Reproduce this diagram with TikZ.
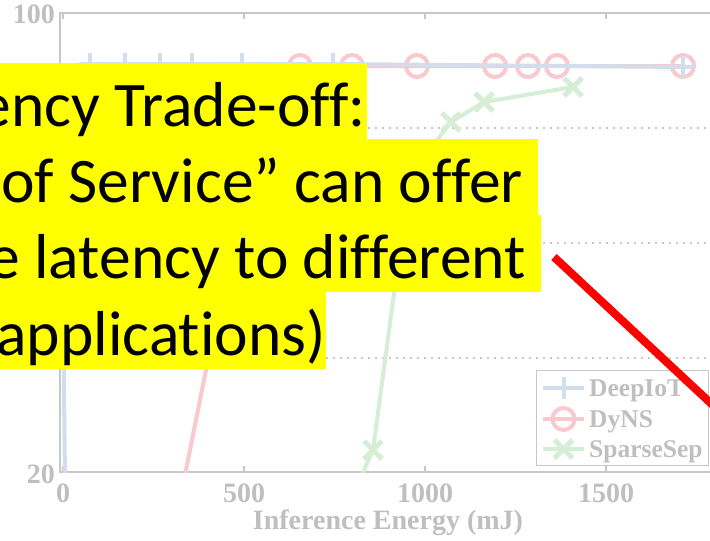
\documentclass[tikz,border=0pt]{standalone}
\usepackage{fontspec}
\setmainfont{Liberation Serif}
\newfontfamily\slidefont[Ligatures={NoCommon}]{Carlito}
\definecolor{axisgray}{HTML}{C8C8C8}
\definecolor{labelgray}{HTML}{BFBFBF}
\definecolor{deepblue}{HTML}{D2DEEE}
\definecolor{dynspink}{HTML}{F9C9CD}
\definecolor{sparsegreen}{HTML}{D5EED5}
\definecolor{hiyellow}{HTML}{FFFF00}
\tikzset{
  axisline/.style={draw=axisgray, line width=1.5pt},
  gridline/.style={draw=axisgray, line width=1.6pt, dash pattern=on 1.6pt off 5.4pt},
  ticklabel/.style={font=\fontsize{28}{28}\selectfont\bfseries, text=labelgray, inner sep=0pt},
  legendlabel/.style={font=\fontsize{25.5}{25.5}\selectfont\bfseries, text=labelgray, inner sep=0pt, anchor=base west},
  curve/.style={line width=4pt, line join=round},
  hilite/.style={fill=hiyellow, inner sep=0pt, anchor=south east,
    font=\slidefont\fontsize{63.5}{63.5}\selectfont},
  plusmark/.pic={\draw[line width=4pt] (-11,0) -- (11,0) (0,-11) -- (0,11);},
  circmark/.pic={\draw[line width=4pt] (0,0) circle[radius=11];},
  crossmark/.pic={\draw[line width=5pt] (-9,-9) -- (9,9) (-9,9) -- (9,-9);},
}
\newcommand{\hlline}[2]{\rule[-13pt]{0pt}{77pt}\makebox[700pt][r]{#1\hspace{#2}}}
\begin{document}
\begin{tikzpicture}[x=1pt, y=-1pt]
\useasboundingbox (0,0) rectangle (710,541);
\clip (0,0) rectangle (710,541);
\fill[white] (0,0) rectangle (710,541);

% horizontal grid
\foreach \gy in {128,243,358} \draw[gridline] (60,\gy) -- (712,\gy);

% axes frame and ticks
\draw[axisline] (712,13) -- (60,13) -- (60,472) -- (712,472);
\foreach \tx in {63,244,425,606} {
  \draw[axisline] (\tx,13) -- (\tx,19);
  \draw[axisline] (\tx,472) -- (\tx,466);
}

% curves, clipped to the axes
\begin{scope}
  \clip (60,13) rectangle (712,472);
  % DyNS
  \draw[curve, dynspink] (178,510) -- (240,200) -- (300,66) -- (683,66);
  \foreach \mx in {300,352,417,495,528,557,683}
    \pic[color=dynspink] at (\mx,66) {circmark};
  % DeepIoT
  \draw[curve, deepblue] (65,480) -- (63,300) -- (90,64) -- (333,64) -- (683,67);
  \foreach \mx/\my in {90/64,125/64,160/64,192/64,242/64,333/64,683/67}
    \pic[color=deepblue] at (\mx,\my) {plusmark};
  % SparseSep
  \draw[curve, sparsegreen] (356,488) -- (373,450) -- (410,175) -- (451,122) -- (484,102) -- (573,87);
  \foreach \mx/\my in {373/450,410/175,451/122,484/102,573/87}
    \pic[color=sparsegreen] at (\mx,\my) {crossmark};
\end{scope}

% tick labels
\node[ticklabel, anchor=base east] (y100) at (55,23) {100};
\node[ticklabel, anchor=base east] (y20) at (55,483) {20};
\node[ticklabel, anchor=base] (x0) at (63,502) {0};
\node[ticklabel, anchor=base] (x500) at (244,502) {500};
\node[ticklabel, anchor=base] (x1000) at (425,502) {1000};
\node[ticklabel, anchor=base] (x1500) at (606,502) {1500};
\node[ticklabel, anchor=base] (xlabel) at (388,529) {Inference Energy (mJ)};

% legend
\node[draw=axisgray, line width=1.2pt, fill=white, minimum width=172pt, minimum height=95pt,
      inner sep=0pt, anchor=north west] (legendbox) at (536,370) {};
\draw[curve, deepblue] (543,388) -- (584,388);
\pic[color=deepblue] at (563.5,388) {plusmark};
\node[legendlabel] (legdeep) at (589,396) {DeepIoT};
\draw[curve, dynspink] (543,419) -- (584,419);
\pic[color=dynspink] at (563.5,419) {circmark};
\node[legendlabel] (legdyns) at (589,427) {DyNS};
\draw[curve, sparsegreen] (543,449) -- (584,449);
\pic[color=sparsegreen] at (563.5,449) {crossmark};
\node[legendlabel] (legsparse) at (589,457) {SparseSep};

% highlighted slide text
\node[hilite] (line1) at (367,140) {\hlline{ency Trade-off:}{1pt}};
\node[hilite] (line2) at (538,216) {\hlline{of Service” can offer}{15pt}};
\node[hilite] (line3) at (541,292) {\hlline{e latency to different}{15pt}};
\node[hilite] (line4) at (326,369) {\hlline{applications)}{0pt}};

% red stroke
\coordinate (redA) at (554,257);
\coordinate (redB) at (732,423);
\draw[red, line width=8pt] (redA) -- (redB);
\end{tikzpicture}
\end{document}
